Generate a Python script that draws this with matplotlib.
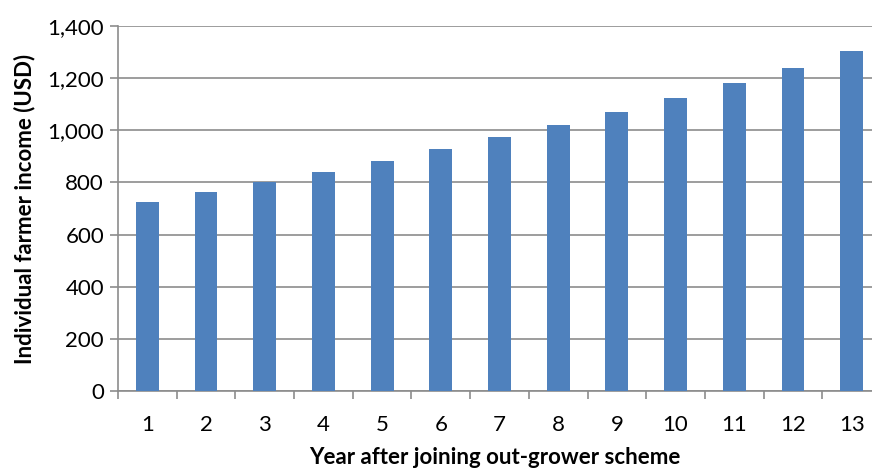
import matplotlib
matplotlib.use("Agg")
import matplotlib.pyplot as plt
from matplotlib.ticker import FuncFormatter, FixedLocator

years = list(range(1, 14))
income = [725, 762, 800, 841, 882, 927, 973, 1021, 1071, 1125, 1181, 1240, 1303]

BAR_COLOR = "#4F81BD"
GRID_COLOR = "#8C8C8C"

plt.rcParams["font.family"] = ["Lato", "DejaVu Sans"]

fig = plt.figure(figsize=(8.72, 4.68), dpi=100)
# plot area: x 118..881 px (cropped at 872), y 26..391 px
ax = fig.add_axes([118 / 872, (468 - 391) / 468, (872 - 118) / 872, (391 - 26) / 468])

ax.bar(years, income, width=0.39, color=BAR_COLOR, zorder=3)

ax.set_xlim(0.5, 13.5 - 9 / 58.7)
ax.set_ylim(0, 1400)
ax.set_yticks(range(0, 1401, 200))
ax.yaxis.set_major_formatter(FuncFormatter(lambda v, p: f"{int(v):,}"))
ax.yaxis.grid(True, color=GRID_COLOR, lw=1.2, zorder=0)

ax.set_xticks(years)
ax.xaxis.set_minor_locator(FixedLocator([y + 0.5 for y in range(0, 14)]))
ax.tick_params(axis="x", which="major", length=0, pad=17, labelsize=16)
ax.tick_params(axis="x", which="minor", length=6, width=1.2, color=GRID_COLOR, direction="out")
ax.tick_params(axis="y", length=6, width=1.2, color=GRID_COLOR, labelsize=16, pad=4)

for s in ["top", "right"]:
    ax.spines[s].set_visible(False)
for s in ["left", "bottom"]:
    ax.spines[s].set_color(GRID_COLOR)
    ax.spines[s].set_linewidth(1.2)

ax.set_ylabel("Individual farmer income (USD)", fontsize=16, fontweight="bold", labelpad=9)
ax.set_xlabel("Year after joining out-grower scheme", fontsize=16, fontweight="bold", labelpad=9)

fig.savefig("out.png", dpi=100)
